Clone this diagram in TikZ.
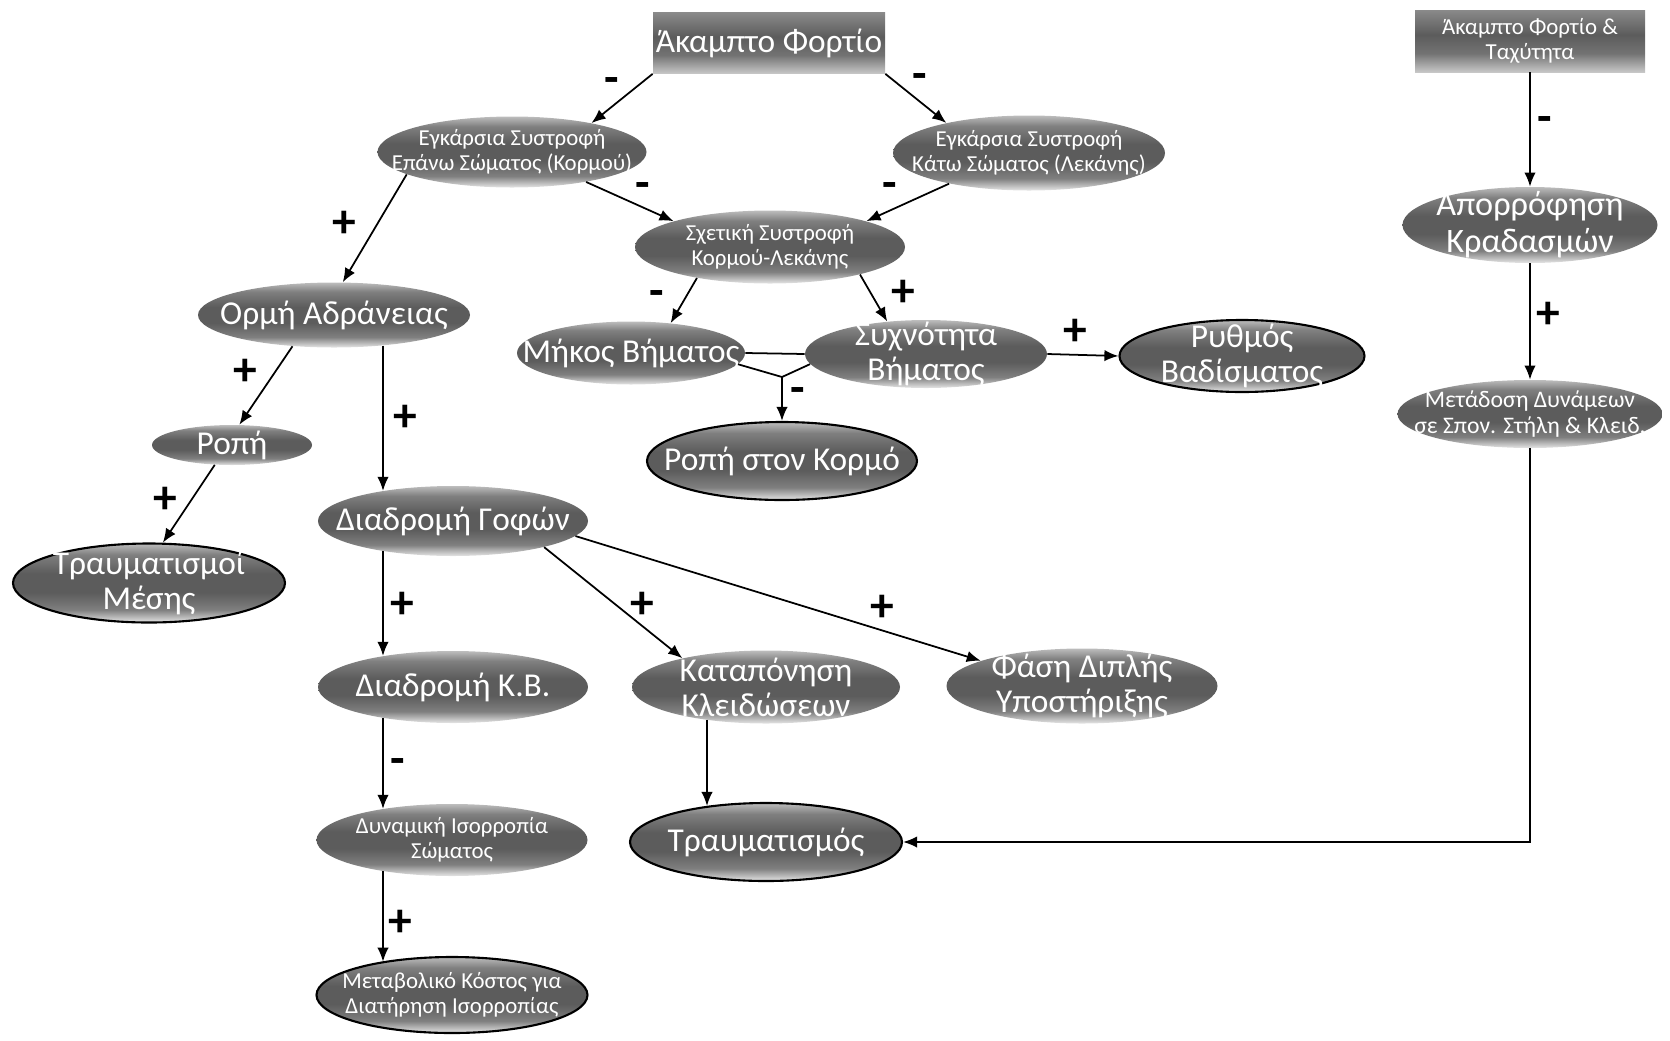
\documentclass[tikz,border=0pt]{standalone}
\usepackage{fontspec}
\setmainfont{Carlito}
\usetikzlibrary{arrows.meta}
\usetikzlibrary{shapes.geometric}
\colorlet{ovA}{black!10}
\colorlet{ovB}{black!50}
\colorlet{ovC}{black!64}
\colorlet{ovD}{black!26}
\colorlet{bxA}{black!22}
\colorlet{bxB}{black!55}
\colorlet{bxC}{black!64}
\colorlet{bxD}{black!46}
\pgfdeclareverticalshading{ovalshade}{100bp}{color(0bp)=(ovA); color(25bp)=(ovA); color(33bp)=(ovB); color(44bp)=(ovC); color(56bp)=(ovC); color(68bp)=(ovB); color(75bp)=(ovD); color(100bp)=(ovD)}
\pgfdeclareverticalshading{boxshade}{100bp}{color(0bp)=(bxA); color(25bp)=(bxA); color(40bp)=(bxB); color(55bp)=(bxC); color(75bp)=(bxD); color(100bp)=(bxD)}

\begin{document}
\begin{tikzpicture}[x=0.2mm,y=-0.2mm,
	ell/.style={ellipse,inner xsep=-80pt,inner ysep=-40pt,align=center,text=white,shade,shading=ovalshade},
	rim/.style={ell,draw=black,line width=1.2pt},
	loadbox/.style={rectangle,inner xsep=-80pt,inner ysep=-40pt,align=center,text=white,shade,shading=boxshade},
	dims/.style 2 args={minimum width=#1*0.2mm,minimum height=#2*0.2mm},
	bigtxt/.style={font=\fontsize{19}{20}\selectfont},
	smalltxt/.style={font=\fontsize{13}{14}\selectfont},
	link/.style={-{Latex[length=8pt,width=6.5pt]},line width=1pt},
	sign/.style={font=\fontsize{27}{27}\selectfont\bfseries,inner sep=0pt}]
	\useasboundingbox (0,0) rectangle (1670,1040);
	% loads
	\node[loadbox,dims={232}{61},bigtxt] (load) at (769,43) {Άκαμπτο Φορτίο};
	\node[loadbox,dims={230}{62},smalltxt] (loadspeed) at (1530,41) {Άκαμπτο Φορτίο \&\\Ταχύτητα};
	% rotations
	\node[ell,dims={269}{71},smalltxt] (upper) at (512,152) {Εγκάρσια Συστροφή\\Επάνω Σώματος (Κορμού)};
	\node[ell,dims={272}{75},smalltxt] (lower) at (1029,153) {Εγκάρσια Συστροφή\\Κάτω Σώματος (Λεκάνης)};
	\node[ell,dims={270}{73},smalltxt] (relative) at (770,247) {Σχετική Συστροφή\\Κορμού-Λεκάνης};
	\node[ell,dims={272}{65},bigtxt] (momentum) at (334,315) {Ορμή Αδράνειας};
	\node[ell,dims={228}{63},bigtxt] (steplen) at (631,353) {Μήκος Βήματος};
	\node[ell,dims={242}{68},bigtxt] (stepfreq) at (926,354) {Συχνότητα\\Βήματος};
	\node[rim,dims={245}{72},bigtxt] (cadence) at (1242,356) {Ρυθμός\\Βαδίσματος};
	\node[rim,dims={270}{78},bigtxt] (trunktorque) at (782,461) {Ροπή στον Κορμό};
	\node[ell,dims={160}{40},bigtxt] (torque) at (232,445) {Ροπή};
	\node[rim,dims={272}{79},bigtxt] (waist) at (149,583) {Τραυματισμοί\\Μέσης};
	% hips column
	\node[ell,dims={270}{70},bigtxt] (hips) at (453,521) {Διαδρομή Γοφών};
	\node[ell,dims={270}{72},bigtxt] (com) at (453,687) {Διαδρομή Κ.Β.};
	\node[ell,dims={271}{72},smalltxt] (balance) at (452,840) {Δυναμική Ισορροπία\\Σώματος};
	\node[rim,dims={271}{76},smalltxt] (cost) at (452,995) {Μεταβολικό Κόστος για\\Διατήρηση Ισορροπίας};
	\node[ell,dims={268}{73},bigtxt] (joints) at (766,687) {Καταπόνηση\\Κλειδώσεων};
	\node[ell,dims={271}{75},bigtxt] (double) at (1082,686) {Φάση Διπλής\\Υποστήριξης};
	\node[rim,dims={272}{78},bigtxt] (injury) at (766,842) {Τραυματισμός};
	% right column
	\node[ell,dims={255}{76},font=\fontsize{19.5}{21}\selectfont] (absorb) at (1530,225) {Απορρόφηση\\Κραδασμών};
	\node[ell,dims={265}{68},font=\fontsize{13.5}{15}\selectfont] (transfer) at (1530,414) {Μετάδοση Δυνάμεων\\σε Σπον. Στήλη \& Κλειδ.};

	\draw[link] (load.south west) -- (upper.20);
	\draw[link] (load.south east) -- (lower.160);
	\draw[link] (upper.-22) -- (relative.165);
	\draw[link] (lower.201) -- (relative.15);
	\draw[link] (upper.192) -- (momentum.75);
	\draw[link] (relative.203) -- (steplen.37);
	\draw[link] (relative.-17) -- (stepfreq.140);
	\draw[line width=1pt] (steplen.east) -- (stepfreq.west);
	\coordinate (vee) at (782,377);
	\draw[line width=1pt] (steplen.-6) -- (vee) -- (stepfreq.185);
	\draw[link] (vee) -- (vee |- trunktorque.north);
	\draw[link] (stepfreq.east) -- (cadence.west);
	\coordinate (spine) at (383,0);
	\draw[link] (momentum.217) -- (torque.70);
	\draw[link] (torque.229) -- (waist.71);
	\draw[link] (spine |- momentum.-32) -- (spine |- hips.157);
	\draw[link] (spine |- hips.203) -- (spine |- com.156);
	\draw[link] (spine |- com.204) -- (spine |- balance.156);
	\draw[link] (spine |- balance.204) -- (spine |- cost.155);
	\draw[link] (hips.-16) -- (joints.161);
	\draw[link] (hips.-7) -- (double.166);
	\coordinate (drop) at (707,0);
	\draw[link] (drop |- joints.209) -- (drop |- injury.149);
	\draw[link] (transfer.south) |- (injury.east);
	\draw[link] (loadspeed.south) -- (absorb.north);
	\draw[link] (absorb.south) -- (transfer.north);
	% signs on the links
	\foreach \s/\x/\y [count=\i] in {-/612/86, -/920/82, -/643/190, -/890/190, +/344/224,
		-/657/298, +/903/293, -/798/395, +/1075/332, +/245/372, +/405/418, +/165/500,
		+/402/605, +/642/605, +/882/608, -/398/766, +/400/923, -/1545/125, +/1548/315}
		\node[sign] (sign\i) at (\x,\y) {\s};
\end{tikzpicture}
\end{document}
